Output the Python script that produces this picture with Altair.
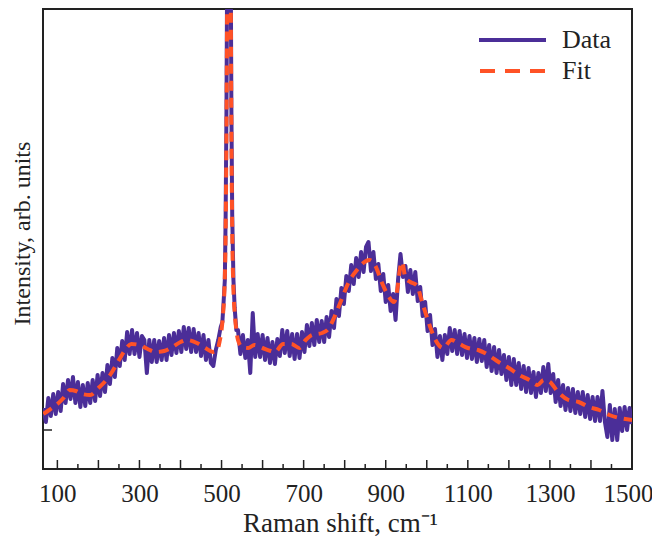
import altair as alt
import pandas as pd

# ---- Data (intensity in arbitrary units) ----
# measured spectrum, regular 6 cm^-1 grid below the Si peak
data_seg1_start = 66
data_seg1_y = [22, 8, 32, 14, 36, 16, 38, 19, 46, 27,
               50, 31, 53, 27, 48, 23, 45, 24, 47, 27,
               50, 29, 55, 34, 57, 38, 65, 46, 72, 53,
               82, 64, 89, 70, 98, 76, 100, 76, 97, 73,
               94, 90, 57, 90, 68, 90, 68, 89, 70, 92,
               70, 95, 75, 97, 77, 99, 78, 103, 81, 102,
               78, 101, 78, 97, 74, 95, 70, 90, 67, 64,
               80, 90, 103]
# Si peak region
data_peak_x = [502, 505, 508, 510, 512, 514, 516, 518, 520, 522, 524, 526, 529, 532, 536]
data_peak_y = [108, 128, 150, 215, 320, 490, 690, 790, 700, 500, 320, 215, 150, 122, 100]
# regular 6 cm^-1 grid above the Si peak
data_seg3_start = 540
data_seg3_y = [100, 76, 95, 72, 90, 57, 117, 73, 96, 73,
               95, 70, 92, 67, 88, 66, 91, 74, 100, 77,
               99, 74, 96, 71, 96, 72, 98, 78, 105, 84,
               107, 85, 110, 88, 109, 88, 113, 93, 119, 102,
               131, 114, 142, 126, 154, 139, 165, 146, 172, 153,
               178, 158, 183, 188, 159, 178, 151, 166, 139, 156,
               128, 145, 119, 136, 110, 150, 176, 153, 164, 138,
               160, 136, 158, 129, 143, 114, 128, 99, 115, 85,
               101, 73, 94, 70, 95, 76, 102, 79, 100, 76,
               99, 75, 96, 72, 94, 71, 92, 68, 91, 69,
               90, 63, 85, 59, 83, 57, 80, 56, 75, 50,
               73, 45, 71, 45, 67, 41, 64, 38, 62, 37,
               58, 33, 57, 37, 63, 39, 66, 37, 56, 28,
               50, 24, 45, 20, 42, 19, 41, 17, 38, 16,
               38, 13, 35, 11, 33, 9, 33, 9, 39, 8,
               -7, 25, -10, 21, -10, 22, -1, 23, 0, 22,
               6]

# fitted curve
fit_x = [66, 80, 100, 115, 130, 145, 160, 180, 200, 215,
         230, 250, 265, 280, 300, 320, 340, 360, 380, 400,
         415, 440, 460, 480, 490, 495, 500, 504, 507, 510,
         512, 514, 516, 518, 520, 522, 524, 526, 529, 532,
         536, 540, 550, 565, 580, 600, 620, 630, 650, 670,
         690, 705, 720, 745, 760, 775, 790, 810, 830, 845,
         860, 875, 890, 905, 920, 928, 935, 940, 948, 960,
         975, 990, 1005, 1020, 1040, 1060, 1080, 1100, 1125, 1150,
         1175, 1200, 1225, 1250, 1270, 1285, 1300, 1320, 1345, 1370,
         1395, 1420, 1445, 1470, 1500]
fit_y = [16, 20, 26, 32, 40, 39, 36, 35, 42, 48,
         56, 70, 80, 86, 85, 81, 78, 79, 83, 88,
         90, 87, 82, 78, 80, 88, 100, 118, 140, 200,
         300, 460, 650, 760, 680, 480, 300, 200, 140, 118,
         100, 90, 83, 82, 85, 82, 79, 78, 86, 86,
         82, 90, 95, 97, 101, 113, 128, 148, 160, 167,
         170, 164, 148, 135, 128, 140, 162, 168, 152, 148,
         145, 126, 107, 91, 82, 90, 86, 82, 80, 75,
         68, 62, 55, 50, 45, 50, 48, 38, 30, 28,
         23, 20, 15, 12, 10]

x_labels = [100, 300, 500, 700, 900, 1100, 1300, 1500]
major_ticks = list(range(100, 1501, 100))
minor_ticks = list(range(150, 1451, 100))
x_domain = [65, 1500]
y_domain = [-39, 421]

# ---- tables ----
data_x = ([data_seg1_start + 6 * i for i in range(len(data_seg1_y))]
          + data_peak_x
          + [data_seg3_start + 6 * i for i in range(len(data_seg3_y))])
data_y = data_seg1_y + data_peak_y + data_seg3_y
df_data = pd.DataFrame({"x": data_x, "y": data_y})
df_fit = pd.DataFrame({"x": fit_x, "y": fit_y})
df_major = pd.DataFrame({"x": major_ticks})
df_minor = pd.DataFrame({"x": minor_ticks})
one = pd.DataFrame({"a": [0]})

W, H = 589, 460
FONT = "Liberation Serif"
TXT = "#222222"
PURPLE = "#4b2e98"
ORANGE = "#ff5226"

xscale = alt.Scale(domain=x_domain, nice=False, zero=False)
yscale = alt.Scale(domain=y_domain, nice=False, zero=False)

x_axis = alt.Axis(
    values=x_labels, format="d", tickSize=0, domain=False, grid=False,
    labelFont=FONT, labelFontSize=25, labelColor=TXT, labelPadding=12,
    labelFlush=False, labelOverlap=False,
    labelOffset={"condition": {"test": "datum.value == 1500", "value": -4}, "value": 0},
    title="Raman shift, cm⁻¹", titleFont=FONT, titleFontSize=27,
    titleFontWeight="normal", titleColor=TXT, titleX=297, titleY=62,
    titleAlign="center", titleBaseline="alphabetic",
)
y_axis = alt.Axis(
    labels=False, ticks=False, domain=False, grid=False,
    title="Intensity, arb. units", titleFont=FONT, titleFontSize=24,
    titleFontWeight="normal", titleColor=TXT, titleAngle=270,
    titleX=-14, titleY=224, titleAlign="center", titleBaseline="alphabetic",
)

data_line = alt.Chart(df_data).mark_line(
    color=PURPLE, strokeWidth=4, clip=True, strokeJoin="round"
).encode(
    x=alt.X("x:Q", scale=xscale, axis=x_axis),
    y=alt.Y("y:Q", scale=yscale, axis=y_axis),
)

fit_line = alt.Chart(df_fit).mark_line(
    color=ORANGE, strokeWidth=4, strokeDash=[10, 7], clip=True,
    interpolate="monotone"
).encode(x="x:Q", y="y:Q")

major = alt.Chart(df_major).mark_rule(color=TXT, strokeWidth=1.5).encode(
    x="x:Q", y=alt.value(H), y2=alt.value(H - 9)
)
minor = alt.Chart(df_minor).mark_rule(color=TXT, strokeWidth=1.5).encode(
    x="x:Q", y=alt.value(H), y2=alt.value(H - 5)
)
ytick = alt.Chart(one).mark_rule(color=TXT, strokeWidth=1.5).encode(
    y=alt.datum(0), x=alt.value(0), x2=alt.value(9)
)

leg_data = alt.Chart(one).mark_rule(color=PURPLE, strokeWidth=4).encode(
    x=alt.value(436), x2=alt.value(503), y=alt.value(31)
)
leg_fit = alt.Chart(one).mark_rule(color=ORANGE, strokeWidth=4, strokeDash=[15, 10]).encode(
    x=alt.value(437), x2=alt.value(503), y=alt.value(62)
)
leg_t1 = alt.Chart(one).mark_text(
    align="left", baseline="alphabetic", font=FONT, fontSize=26, color=TXT
).encode(x=alt.value(519), y=alt.value(39), text=alt.value("Data"))
leg_t2 = alt.Chart(one).mark_text(
    align="left", baseline="alphabetic", font=FONT, fontSize=26, color=TXT
).encode(x=alt.value(519), y=alt.value(70), text=alt.value("Fit"))

chart = alt.layer(
    data_line, fit_line, major, minor, ytick, leg_data, leg_fit, leg_t1, leg_t2
).properties(
    width=W, height=H,
    autosize=alt.AutoSizeParams(type="none"),
    padding={"left": 35, "top": 1, "right": 20, "bottom": 73},
    background="white",
).configure_view(stroke="#222222", strokeWidth=2)

chart.save("out.html", embed_options={"renderer": "svg", "actions": False})
